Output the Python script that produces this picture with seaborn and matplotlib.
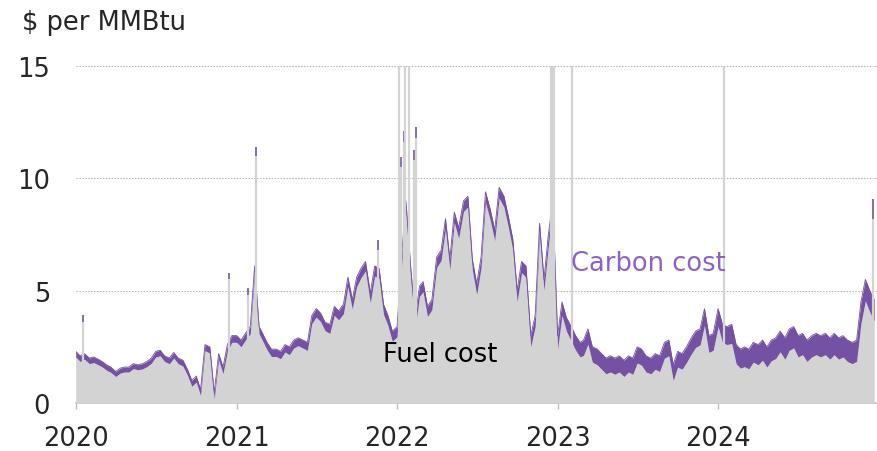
import numpy as np
import pandas as pd
import matplotlib
matplotlib.use("Agg")
import matplotlib.pyplot as plt
import seaborn as sns

# Fuel cost ($/MMBtu), read at the 1st, 11th and 21st of each month
fuel_2020 = [2.05, 1.85, 1.95, 1.75, 1.8, 1.7, 1.61, 1.46, 1.36, 1.18, 1.33, 1.38,
             1.38, 1.53, 1.48, 1.52, 1.62, 1.77, 2.05, 2.1, 1.85, 1.75, 2.0, 1.75,
             1.64, 1.24, 0.74, 0.93, 0.33, 2.33, 2.22, 0.17, 1.92, 1.3, 2.3, 2.7]
fuel_2021 = [2.7, 2.5, 2.8, 3.08, 5.78, 3.08, 2.77, 2.37, 2.07, 2.07, 1.97, 2.27,
             2.15, 2.45, 2.55, 2.44, 2.34, 3.54, 3.82, 3.62, 3.22, 3.1, 3.9, 3.7,
             3.98, 5.18, 4.18, 5.18, 5.58, 5.88, 4.45, 5.65, 5.55, 3.95, 3.45, 2.75]
fuel_2022 = [2.95, 6.05, 8.55, 5.55, 3.35, 4.75, 4.95, 3.85, 4.15, 6.04, 6.34, 7.74,
             5.93, 8.03, 7.33, 8.53, 8.73, 5.93, 4.82, 6.02, 8.92, 8.12, 7.22, 9.12,
             8.72, 7.82, 6.82, 4.5, 5.8, 5.6, 2.5, 3.4, 7.5, 5.0, 7.0, 8.5]
fuel_2023 = [2.4, 3.9, 3.2, 2.75, 2.35, 2.05, 2.12, 2.62, 1.82, 1.7, 1.5, 1.3,
             1.38, 1.28, 1.38, 1.18, 1.38, 1.28, 1.78, 1.68, 1.38, 1.3, 1.5, 1.4,
             2.0, 2.1, 1.0, 1.6, 1.5, 1.8, 2.18, 2.48, 2.58, 3.45, 2.25, 2.35]
fuel_2024 = [3.4, 2.7, 2.6, 2.65, 1.75, 1.55, 1.62, 1.52, 1.82, 1.7, 1.9, 1.6,
             1.88, 1.98, 2.28, 1.95, 2.35, 2.45, 2.05, 2.15, 1.85, 2.05, 2.15, 2.05,
             2.15, 1.95, 2.15, 1.95, 2.05, 1.85, 1.75, 1.85, 3.55, 4.55, 4.05, 3.65]

# Carbon cost ($/MMBtu), one value per month
carbon_2020 = [0.25, 0.25, 0.24, 0.22, 0.22, 0.23, 0.25, 0.25, 0.26, 0.27, 0.28, 0.3]
carbon_2021 = [0.3, 0.32, 0.33, 0.33, 0.35, 0.36, 0.38, 0.4, 0.42, 0.42, 0.45, 0.45]
carbon_2022 = [0.45, 0.45, 0.45, 0.46, 0.47, 0.47, 0.48, 0.48, 0.48, 0.5, 0.5, 0.5]
carbon_2023 = [0.6, 0.65, 0.68, 0.7, 0.72, 0.72, 0.72, 0.7, 0.7, 0.7, 0.72, 0.75]
carbon_2024 = [0.8, 0.85, 0.88, 0.9, 0.92, 0.95, 0.95, 0.95, 0.95, 0.95, 0.95, 0.95]

# one-day price spikes
spike_dates = ["2020-01-17", "2020-12-15", "2021-01-26", "2021-02-15", "2021-11-19",
               "2022-01-06", "2022-01-09", "2022-01-16", "2022-01-19", "2022-01-28",
               "2022-02-08", "2022-02-13", "2022-12-18", "2022-12-21", "2022-12-23",
               "2023-02-03", "2024-01-14", "2024-12-19"]
spike_fuel = [3.6, 5.5, 4.8, 11.0, 6.8,
              16.0, 10.5, 11.6, 16.0, 16.0,
              10.8, 11.8, 16.0, 16.0, 16.0,
              16.0, 16.0, 8.2]
spike_carbon = [0.3, 0.3, 0.3, 0.4, 0.45,
                0.45, 0.45, 0.5, 0.45, 0.45,
                0.45, 0.5, 0.5, 0.5, 0.5,
                0.65, 0.8, 0.9]

year_labels = ["2020", "2021", "2022", "2023", "2024"]

GRAY = "#d3d3d3"
PURPLE = "#7451a2"
LABEL_PURPLE = "#8d62c4"
AXIS_GRAY = "#bfbfbf"

sns.set_style("white")
plt.rcParams["font.family"] = ["DejaVu Sans"]

months = pd.date_range("2020-01-01", "2024-12-01", freq="MS")
dates = [m + pd.Timedelta(days=d) for m in months for d in (0, 10, 20)]
df = pd.DataFrame({
    "date": dates,
    "fuel": np.concatenate([fuel_2020, fuel_2021, fuel_2022, fuel_2023, fuel_2024]),
    "carbon": np.repeat(np.concatenate([carbon_2020, carbon_2021, carbon_2022,
                                        carbon_2023, carbon_2024]), 3),
})
df["total"] = df["fuel"] + df["carbon"]

fig = plt.figure(figsize=(8.77, 4.52), dpi=100)
ax = fig.add_axes([75.7 / 877, 48 / 452, 801.1 / 877, 337 / 452])

ax.stackplot(df["date"], df["fuel"], df["carbon"], colors=[GRAY, PURPLE],
             lw=0, zorder=3)
sns.lineplot(data=df, x="date", y="total", color=PURPLE, lw=0.6, ax=ax, zorder=3)

sp = pd.to_datetime(spike_dates)
sp_top = np.array(spike_fuel) + np.array(spike_carbon)
ax.vlines(sp, 0, sp_top, color=PURPLE, lw=1.2, zorder=4)
ax.vlines(sp, 0, spike_fuel, color=GRAY, lw=1.6, zorder=4)

ax.set_xlim(pd.Timestamp("2020-01-01"), pd.Timestamp("2024-12-27"))
ax.set_ylim(0, 15)
ax.set_xticks(pd.to_datetime([f"{y}-01-01" for y in year_labels]))
ax.set_xticklabels(year_labels)
ax.set_yticks([0, 5, 10, 15])
ax.set_xlabel("")
ax.set_ylabel("")

ax.set_axisbelow(True)
ax.yaxis.grid(True, color="#b0b0b0", linestyle=(0, (1.5, 1.5)), lw=0.7)
ax.xaxis.grid(False)
ax.tick_params(axis="x", bottom=True, length=4.5, width=1, color=AXIS_GRAY,
               pad=11, labelsize=18.5)
ax.tick_params(axis="y", left=False, length=0, pad=18.5, labelsize=18.5)
sns.despine(ax=ax, left=True)
ax.spines["bottom"].set_color(AXIS_GRAY)
ax.spines["bottom"].set_linewidth(1.2)

fig.text(22 / 877, 1 - 22.5 / 452, "$ per MMBtu", fontsize=18.5,
         ha="left", va="center")
ax.text(pd.Timestamp("2021-11-30"), 1.87, "Fuel cost", fontsize=18.5,
        ha="left", va="baseline", color="black", zorder=5)
ax.text(pd.Timestamp("2023-02-01"), 5.93, "Carbon cost", fontsize=18.5,
        ha="left", va="baseline", color=LABEL_PURPLE, zorder=5)

fig.savefig("out.png", dpi=100)
